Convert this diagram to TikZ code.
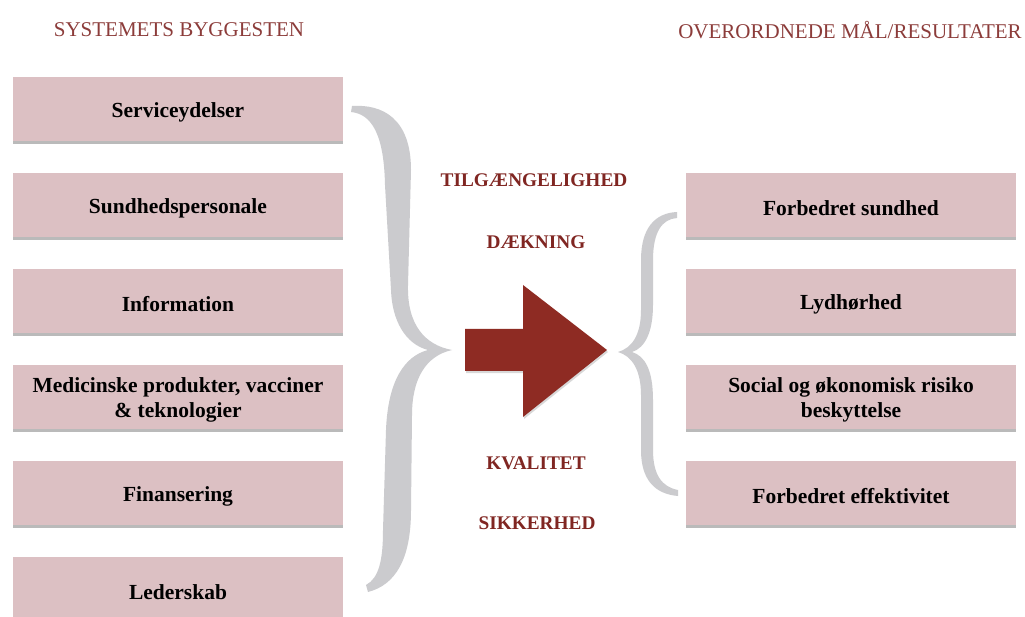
\documentclass[tikz,border=0pt]{standalone}
\usepackage{fontspec}
\setmainfont{Liberation Serif}
\usetikzlibrary{shadows}
\definecolor{boxfill}{RGB}{220,192,195}
\definecolor{headred}{RGB}{140,60,58}
\definecolor{midred}{RGB}{128,38,34}
\definecolor{arrowred}{RGB}{142,43,35}
\definecolor{bracegray}{RGB}{203,203,206}
\tikzset{
  itembox/.style={rectangle, fill=boxfill, minimum width=330pt, minimum height=64pt,
    inner sep=0pt,
    drop shadow={shadow xshift=0pt, shadow yshift=-3pt, opacity=0.45, fill=black!60}},
  itemtext/.style={align=center, inner sep=0pt, yshift=-3pt,
    font=\fontsize{21.5}{25}\selectfont\bfseries},
  header/.style={text=headred, font=\fontsize{21}{24}\selectfont},
  midlabel/.style={text=midred, font=\fontsize{19.3}{22}\selectfont\bfseries},
}
\begin{document}
\begin{tikzpicture}[x=1pt,y=-1pt]
\useasboundingbox (0,0) rectangle (1025,617);
\fill[white] (0,0) rectangle (1025,617);
% headers
\node[header] (h1) at (179,30) {SYSTEMETS BYGGESTEN};
\node[header] (h2) at (850,30) {OVERORDNEDE MÅL/RESULTATER};
% left boxes
\begin{scope}
\clip (0,0) rectangle (1025,617);
\node[itembox] (l1) at (178,109) {};
\node[itembox] (l2) at (178,205) {};
\node[itembox] (l3) at (178,301) {};
\node[itembox] (l4) at (178,397) {};
\node[itembox] (l5) at (178,493) {};
\node[itembox] (l6) at (178,589) {};
\end{scope}
\node[itemtext] (l1t) at (l1.center) {Serviceydelser};
\node[itemtext] (l2t) at (l2.center) {Sundhedspersonale};
\node[itemtext] (l3t) at (l3.center) {Information};
\node[itemtext] (l4t) at (l4.center) {Medicinske produkter, vacciner\\\& teknologier};
\node[itemtext] (l5t) at (l5.center) {Finansering};
\node[itemtext] (l6t) at (l6.center) {Lederskab};
% right boxes
\node[itembox] (r1) at (851,205) {};
\node[itembox] (r2) at (851,301) {};
\node[itembox] (r3) at (851,397) {};
\node[itembox] (r4) at (851,493) {};
\node[itemtext] (r1t) at (r1.center) {Forbedret sundhed};
\node[itemtext] (r2t) at (r2.center) {Lydhørhed};
\node[itemtext] (r3t) at (r3.center) {Social og økonomisk risiko\\beskyttelse};
\node[itemtext] (r4t) at (r4.center) {Forbedret effektivitet};
% middle labels
\node[midlabel] (m1) at (534,180) {TILGÆNGELIGHED};
\node[midlabel] (m2) at (536,242) {DÆKNING};
\node[midlabel] (m3) at (536,463) {KVALITET};
\node[midlabel] (m4) at (537,523) {SIKKERHED};
% left brace
\fill[bracegray] (352,106)
  .. controls (382,104) and (411,118) .. (411,170)
  -- (408,285)
  .. controls (407,325) and (425,345) .. (452,350)
  .. controls (425,356) and (412,380) .. (412,415)
  -- (411,510)
  .. controls (411,560) and (395,585) .. (368,592)
  -- (366,585)
  .. controls (379,578) and (383,560) .. (383,530)
  -- (386,430)
  .. controls (388,380) and (405,356) .. (428,350)
  .. controls (405,344) and (392,320) .. (391,290)
  -- (385,185)
  .. controls (384,135) and (372,114) .. (351,112)
  -- cycle;
% right brace
\fill[bracegray] (677,212)
  .. controls (655,213) and (641,228) .. (641,260)
  -- (641,310)
  .. controls (641,335) and (632,348) .. (618,352)
  .. controls (632,356) and (641,370) .. (641,395)
  -- (641,450)
  .. controls (641,480) and (655,494) .. (678,496)
  -- (678,490)
  .. controls (662,487) and (653,475) .. (653,450)
  -- (653,400)
  .. controls (653,370) and (645,356) .. (632,352)
  .. controls (645,348) and (653,332) .. (653,305)
  -- (653,260)
  .. controls (653,232) and (662,219) .. (677,218)
  -- cycle;
% big arrow
\fill[arrowred, drop shadow={shadow xshift=1pt, shadow yshift=-2pt, opacity=0.3}]
  (465,329) -- (523,329) -- (523,285) -- (607,350) -- (523,417) -- (523,371) -- (465,371) -- cycle;
\end{tikzpicture}
\end{document}
